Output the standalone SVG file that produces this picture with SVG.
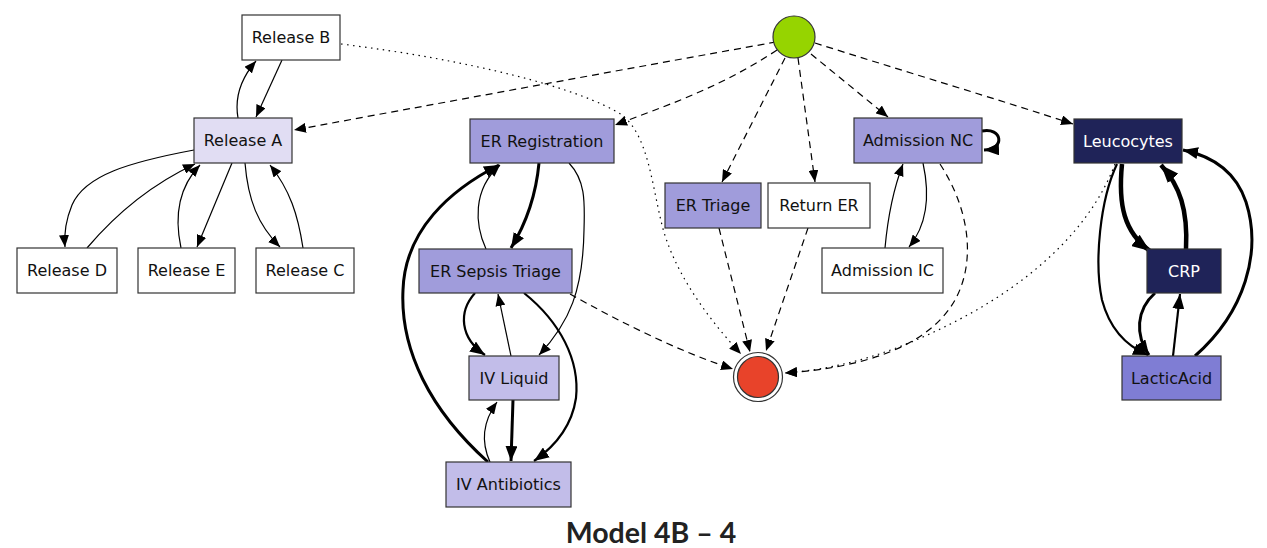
<svg xmlns="http://www.w3.org/2000/svg" width="1267" height="548" viewBox="0 0 1267 548">
<style>
.n rect{stroke:#333;stroke-width:1.2}
.n text{font-family:"DejaVu Sans",sans-serif;font-size:16px;text-anchor:middle;fill:#111}
.w{fill:#fff}
.l1{fill:#e1ddf3}
.l2{fill:#a09cdb}
.l3{fill:#c2bde9}
.l4{fill:#7f7dd4}
.dk{fill:#1f2358}
.n text.wt{fill:#fff}
.e path{fill:none;stroke:#000;stroke-width:1.2}
.e path.d{stroke-dasharray:7,5}
.e path.o{stroke-dasharray:1.5,4.5}
.e path.t2{stroke-width:2.2}
.e path.t3{stroke-width:3}
.e path.t4{stroke-width:4.5}
.title{font-family:Lato,"Liberation Sans",sans-serif;font-weight:bold;font-size:28.5px;text-anchor:middle;fill:#222}
</style>
<defs>
<marker id="a" markerUnits="userSpaceOnUse" markerWidth="12" markerHeight="10" viewBox="0 0 12 10" refX="12" refY="5" orient="auto"><path d="M0,0 L12,5 L0,10 z" fill="#000"/></marker>
<marker id="b" markerUnits="userSpaceOnUse" markerWidth="15" markerHeight="12" viewBox="0 0 15 12" refX="15" refY="6" orient="auto"><path d="M0,0 L15,6 L0,12 z" fill="#000"/></marker>
<marker id="c" markerUnits="userSpaceOnUse" markerWidth="18" markerHeight="14" viewBox="0 0 18 14" refX="18" refY="7" orient="auto"><path d="M0,0 L18,7 L0,14 z" fill="#000"/></marker>
</defs>
<rect width="1267" height="548" fill="#fff"/>
<g id="edges" class="e">
<!-- left cluster -->
<path d="M238,118 C234,95 243,76 256,61" marker-end="url(#a)"/>
<path d="M282,60 L256,117" marker-end="url(#a)"/>
<path class="d" d="M776,42 C620,70 430,105 294,130" marker-end="url(#a)"/>
<path class="o" d="M341,44 C470,60 580,88 622,115 C648,135 652,185 662,225 C672,265 700,310 741,354" marker-end="url(#a)"/>
<path d="M194,150 C130,162 85,175 72,205 C65,222 64,235 65,247" marker-end="url(#a)"/>
<path d="M87,248 C115,215 150,185 195,164" marker-end="url(#a)"/>
<path d="M181,248 C175,220 176,190 200,165" marker-end="url(#a)"/>
<path d="M232,163 L197,247" marker-end="url(#a)"/>
<path d="M245,163 C248,200 258,225 280,247" marker-end="url(#a)"/>
<path d="M303,248 C298,215 290,190 270,165" marker-end="url(#a)"/>
<!-- start edges -->
<path class="d" d="M777,50 C720,88 660,108 615,125" marker-end="url(#a)"/>
<path class="d" d="M785,58 L722,182" marker-end="url(#a)"/>
<path class="d" d="M798,58 L815,182" marker-end="url(#a)"/>
<path class="d" d="M811,54 L888,117" marker-end="url(#a)"/>
<path class="d" d="M815,43 C900,70 1000,100 1073,124" marker-end="url(#a)"/>
<!-- ER cluster -->
<path class="t3" d="M539,163 C536,195 527,222 511,248" marker-end="url(#b)"/>
<path d="M486,249 C475,225 472,190 500,165" marker-end="url(#a)"/>
<path d="M569,163 C585,180 585,200 584,230 C583,290 570,322 539,355" marker-end="url(#a)"/>
<path class="t3" d="M488,462 C430,410 400,350 403,290 C405,230 450,190 499,165" marker-end="url(#b)"/>
<path class="t2" d="M475,293 C458,312 460,338 485,355" marker-end="url(#b)"/>
<path d="M511,356 L498,294" marker-end="url(#a)"/>
<path class="t2" d="M524,293 C560,322 580,360 576,398 C572,425 557,445 534,461" marker-end="url(#b)"/>
<path class="t3" d="M513,400 L511,461" marker-end="url(#b)"/>
<path d="M490,462 C480,440 484,420 497,402" marker-end="url(#a)"/>
<!-- to end -->
<path class="d" d="M570,294 C620,322 680,352 733,369" marker-end="url(#a)"/>
<path class="d" d="M719,228 L750,352" marker-end="url(#a)"/>
<path class="d" d="M808,228 L766,351" marker-end="url(#a)"/>
<path class="d" d="M940,164 C970,210 976,262 955,300 C928,348 860,368 785,373" marker-end="url(#a)"/>
<path class="o" d="M1115,164 C1090,230 1030,282 962,318 C905,348 850,368 785,373" marker-end="url(#a)"/>
<!-- admission -->
<path class="t3" d="M982,131 C1002,127 1006,149 984,150" marker-end="url(#b)"/>
<path d="M885,248 C888,215 893,190 903,164" marker-end="url(#a)"/>
<path d="M923,163 C930,195 927,225 909,247" marker-end="url(#a)"/>
<!-- lab cluster -->
<path class="t4" d="M1122,164 C1118,205 1124,232 1150,251" marker-end="url(#c)"/>
<path class="t4" d="M1186,249 C1188,210 1180,186 1161,165" marker-end="url(#c)"/>
<path class="t2" d="M1117,164 C1100,200 1094,262 1102,300 C1110,330 1126,346 1148,355" marker-end="url(#b)"/>
<path class="t3" d="M1195,356 C1245,312 1262,252 1246,202 C1236,172 1212,156 1183,150" marker-end="url(#b)"/>
<path class="t3" d="M1155,293 C1136,310 1135,335 1149,355" marker-end="url(#b)"/>
<path class="t2" d="M1173,356 L1180,294" marker-end="url(#b)"/>
</g>
<g id="start"><circle cx="794" cy="37" r="21" fill="#96d400" stroke="#333" stroke-width="1.2"/></g>
<g id="end"><circle cx="758" cy="377" r="24.5" fill="#fff" stroke="#333" stroke-width="1.2"/><circle cx="758" cy="377" r="20.5" fill="#e8432a" stroke="#333" stroke-width="1.2"/></g>
<g id="releaseB" class="n"><rect class="w" x="242" y="15" width="98" height="45"/><text x="291" y="43">Release B</text></g>
<g id="releaseA" class="n"><rect class="l1" x="194" y="118" width="98" height="45"/><text x="243" y="146">Release A</text></g>
<g id="releaseD" class="n"><rect class="w" x="17" y="248" width="100" height="45"/><text x="67" y="276">Release D</text></g>
<g id="releaseE" class="n"><rect class="w" x="138" y="248" width="97" height="45"/><text x="186.5" y="276">Release E</text></g>
<g id="releaseC" class="n"><rect class="w" x="256" y="248" width="98" height="45"/><text x="305" y="276">Release C</text></g>
<g id="erRegistration" class="n"><rect class="l2" x="470" y="119" width="144" height="44"/><text x="542" y="146.5">ER Registration</text></g>
<g id="erSepsisTriage" class="n"><rect class="l2" x="419" y="249" width="153" height="44"/><text x="495.5" y="276.5">ER Sepsis Triage</text></g>
<g id="ivLiquid" class="n"><rect class="l3" x="469" y="356" width="90" height="44"/><text x="514" y="383.5">IV Liquid</text></g>
<g id="ivAntibiotics" class="n"><rect class="l3" x="446" y="462" width="125" height="45"/><text x="508.5" y="490">IV Antibiotics</text></g>
<g id="erTriage" class="n"><rect class="l2" x="665" y="183" width="96" height="45"/><text x="713" y="211">ER Triage</text></g>
<g id="returnER" class="n"><rect class="w" x="768" y="183" width="102" height="45"/><text x="819" y="211">Return ER</text></g>
<g id="admissionNC" class="n"><rect class="l2" x="854" y="118" width="128" height="45"/><text x="918" y="146">Admission NC</text></g>
<g id="admissionIC" class="n"><rect class="w" x="822" y="248" width="121" height="45"/><text x="882.5" y="276">Admission IC</text></g>
<g id="leucocytes" class="n"><rect class="dk" x="1074" y="119" width="108" height="44"/><text class="wt" x="1128" y="146.5">Leucocytes</text></g>
<g id="crp" class="n"><rect class="dk" x="1147" y="249" width="74" height="44"/><text class="wt" x="1184" y="276.5">CRP</text></g>
<g id="lacticAcid" class="n"><rect class="l4" x="1122" y="356" width="99" height="44"/><text x="1171.5" y="383.5">LacticAcid</text></g>
<text class="title" x="651" y="543">Model 4B – 4</text>
</svg>
